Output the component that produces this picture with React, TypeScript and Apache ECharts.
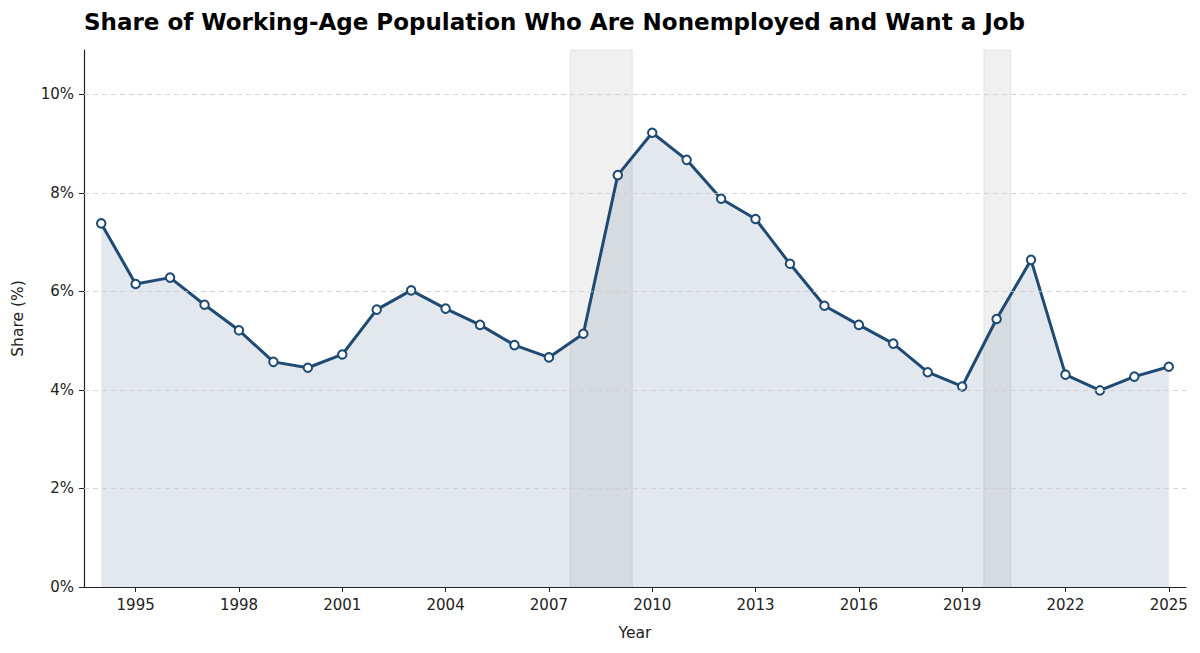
import React, { useEffect, useRef } from "react";
import * as echarts from "echarts";

const years = [1994, 1995, 1996, 1997, 1998, 1999, 2000, 2001, 2002, 2003, 2004, 2005, 2006, 2007, 2008, 2009, 2010, 2011, 2012, 2013, 2014, 2015, 2016, 2017, 2018, 2019, 2020, 2021, 2022, 2023, 2024, 2025];
const shares = [7.38, 6.15, 6.28, 5.73, 5.21, 4.57, 4.45, 4.72, 5.63, 6.02, 5.65, 5.32, 4.91, 4.66, 5.14, 8.36, 9.22, 8.67, 7.88, 7.47, 6.56, 5.71, 5.32, 4.94, 4.36, 4.07, 5.44, 6.64, 4.31, 3.99, 4.27, 4.47];
const xTicks = [1995, 1998, 2001, 2004, 2007, 2010, 2013, 2016, 2019, 2022, 2025];
const yTicks = [0, 2, 4, 6, 8, 10];
const gridValues = [2, 4, 6, 8, 10];
const recessions: [number, number][] = [[2007.62, 2009.42], [2019.63, 2020.41]];

const TITLE = "Share of Working-Age Population Who Are Nonemployed and Want a Job";
const FONT = "DejaVu Sans";
const LINE = "#1f4a73";

export default function App() {
  const ref = useRef<HTMLDivElement>(null);
  useEffect(() => {
    if (!ref.current) return;
    const chart = echarts.init(ref.current, undefined, { renderer: "svg" });
    chart.setOption({
      animation: false,
      backgroundColor: "#ffffff",
      textStyle: { fontFamily: FONT },
      title: {
        text: TITLE,
        left: 79,
        top: 5,
        textStyle: { fontFamily: FONT, fontSize: 23, fontWeight: "bold", color: "#000" },
      },
      grid: { left: 84, right: 14, top: 50, bottom: 66 },
      xAxis: {
        type: "value",
        min: 1993.5,
        max: 2025.5,
        name: "Year",
        nameLocation: "middle",
        nameGap: 38,
        nameTextStyle: { fontSize: 15.5, color: "#222", fontFamily: FONT },
        axisLine: { show: true, onZero: false, lineStyle: { color: "#222", width: 1.2 } },
        axisTick: { show: true, length: 5, customValues: xTicks, lineStyle: { color: "#222" } },
        axisLabel: { customValues: xTicks, fontSize: 15, color: "#222", margin: 10, formatter: (v: number) => String(v) },
        splitLine: { show: false },
      },
      yAxis: {
        type: "value",
        min: 0,
        max: 10.9,
        name: "Share (%)",
        nameLocation: "middle",
        nameGap: 58,
        nameRotate: 90,
        nameTextStyle: { fontSize: 15.5, color: "#222", fontFamily: FONT },
        axisLine: { show: true, lineStyle: { color: "#222", width: 1.2 } },
        axisTick: { show: true, length: 5, customValues: yTicks, lineStyle: { color: "#222" } },
        axisLabel: { customValues: yTicks, fontSize: 15, color: "#222", margin: 10, formatter: (v: number) => v + "%" },
        splitLine: { show: false },
      },
      series: [
        {
          type: "line",
          data: years.map((y, i) => [y, shares[i]]),
          symbol: "circle",
          symbolSize: 8.5,
          lineStyle: { color: LINE, width: 3 },
          itemStyle: { color: "#ffffff", borderColor: LINE, borderWidth: 2 },
          areaStyle: { color: "rgba(31,78,121,0.13)", opacity: 1 },
          z: 3,
          markArea: {
            silent: true,
            itemStyle: { color: "rgba(128,128,128,0.12)", borderColor: "rgba(128,128,128,0.15)", borderWidth: 1, opacity: 1 },
            data: recessions.map(([a, b]) => [{ xAxis: a }, { xAxis: b }]),
          },
          markLine: {
            silent: true,
            symbol: "none",
            label: { show: false },
            lineStyle: { color: "#cccccc", type: [5, 4], width: 0.8 },
            data: gridValues.map((v) => ({ yAxis: v })),
          },
        },
      ],
    });
    return () => chart.dispose();
  }, []);
  return <div ref={ref} style={{ width: 1200, height: 653, position: "fixed", left: 0, top: 0 }} />;
}
